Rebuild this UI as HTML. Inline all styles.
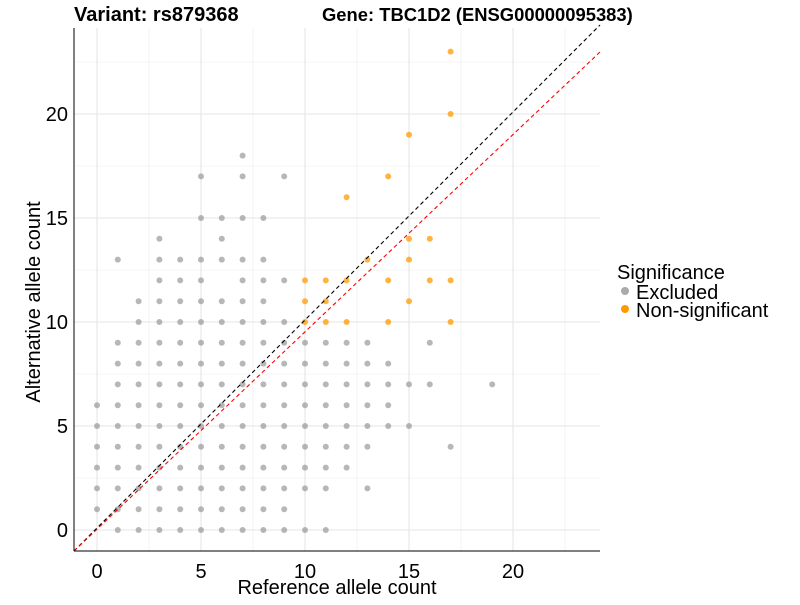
<!DOCTYPE html>
<html><head><meta charset="utf-8"><style>body{margin:0;background:#fff}svg{font-family:"Liberation Sans",sans-serif}</style></head>
<body>
<svg id="s" width="800" height="600" xmlns="http://www.w3.org/2000/svg">
<rect width="800" height="600" fill="#fff"/>
<g stroke="#ebebeb" stroke-width="0.6" id="minor"></g>
<g stroke="#e5e5e5" stroke-width="1.1" id="major"></g>
<g id="pts"></g>
<line x1="74" y1="551" x2="600" y2="25" stroke="#000" stroke-width="1.1" stroke-dasharray="4,3"/>
<line x1="74" y1="551" x2="600" y2="52" stroke="#ff0000" stroke-width="1.1" stroke-dasharray="4,3"/>
<line x1="74" y1="28" x2="74" y2="551" stroke="#000" stroke-width="1"/>
<line x1="74" y1="551" x2="600" y2="551" stroke="#000" stroke-width="1"/>
<g font-size="20" fill="#000" text-anchor="middle">
<text x="97" y="578">0</text><text x="201" y="578">5</text><text x="305" y="578">10</text><text x="409" y="578">15</text><text x="513" y="578">20</text>
</g>
<g font-size="20" fill="#000" text-anchor="end">
<text x="68" y="537">0</text><text x="68" y="433">5</text><text x="68" y="329">10</text><text x="68" y="225">15</text><text x="68" y="121">20</text>
</g>
<text x="337" y="594" font-size="20" text-anchor="middle">Reference allele count</text>
<text transform="translate(40,302) rotate(-90)" font-size="20" text-anchor="middle">Alternative allele count</text>
<text x="74" y="21" font-size="20" font-weight="bold">Variant: rs879368</text>
<text x="322" y="21" font-size="18.4" font-weight="bold">Gene: TBC1D2 (ENSG00000095383)</text>
<text x="617" y="279" font-size="20">Significance</text>
<circle cx="625" cy="291" r="4" fill="#aaaaaa"/><text x="636" y="299" font-size="20">Excluded</text>
<circle cx="625" cy="309" r="4" fill="#ff9900"/><text x="636" y="317" font-size="20">Non-significant</text>
</svg>
<script>
const ns="http://www.w3.org/2000/svg";
const X=v=>97+v*20.8, Y=v=>530-v*20.8;
const mi=document.getElementById('minor'),ma=document.getElementById('major'),P=document.getElementById('pts');
function ln(g,a,b,c,d){const l=document.createElementNS(ns,'line');l.setAttribute('x1',a);l.setAttribute('y1',b);l.setAttribute('x2',c);l.setAttribute('y2',d);g.appendChild(l);}
[-2.5,2.5,7.5,12.5,17.5,22.5].forEach(v=>{if(X(v)>74&&X(v)<600)ln(mi,X(v),28,X(v),551);if(Y(v)>28&&Y(v)<551)ln(mi,74,Y(v),600,Y(v));});
[0,5,10,15,20].forEach(v=>{ln(ma,X(v),28,X(v),551);ln(ma,74,Y(v),600,Y(v));});
const r=(a,b)=>{let o=[];for(let i=a;i<=b;i++)o.push(i);return o;};
const grey={0:r(1,6),1:r(0,9).concat([13]),2:r(0,11),3:r(0,14),4:r(0,13),5:r(0,13).concat([15,17]),6:r(0,11).concat([13,14,15]),
7:r(0,13).concat([15,17,18]),8:r(0,13).concat([15]),9:r(0,10).concat([12,17]),10:[0].concat(r(2,9)),11:[0].concat(r(2,9)),
12:r(3,9),13:[2,4,5,6,7,8,9],14:r(5,8),15:[5,7],16:[7,9],17:[4],19:[7]};
const orng={10:[10,11,12],11:[10,11,12],12:[10,12,16],13:[13],14:[10,12,17],15:[11,13,14,19],16:[12,14],17:[10,12,20,23]};
function dot(x,y,c,o){const e=document.createElementNS(ns,'circle');e.setAttribute('cx',X(x));e.setAttribute('cy',Y(y));e.setAttribute('r',3);e.setAttribute('fill',c);e.setAttribute('fill-opacity',o);P.appendChild(e);}
for(const k in grey)grey[k].forEach(y=>dot(+k,y,'#999999',0.7));
for(const k in orng)orng[k].forEach(y=>dot(+k,y,'#ff9900',0.75));
</script>
</body></html>
